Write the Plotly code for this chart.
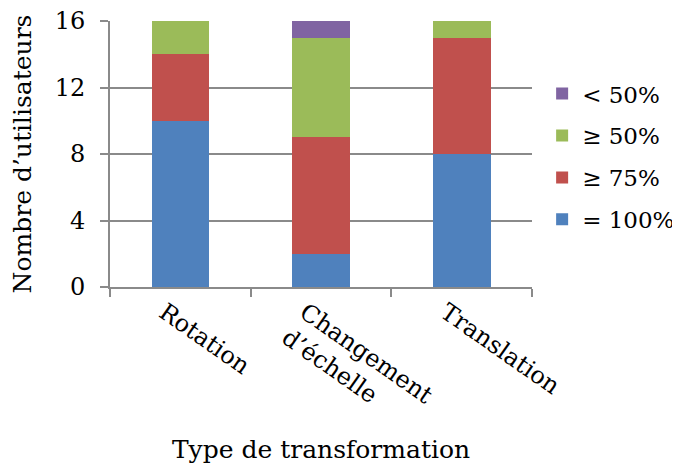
import plotly.graph_objects as go

categories = ["Rotation", "Changement<br>d’échelle", "Translation"]
series_names = ["= 100%", "≥ 75%", "≥ 50%", "< 50%"]
v100 = [10, 2, 8]
v75 = [4, 7, 7]
v50 = [2, 6, 1]
vlt50 = [0, 1, 0]
colors = ["#4F81BD", "#C0504D", "#9BBB59", "#8064A2"]
yticks = [0, 4, 8, 12, 16]

FONT = "DejaVu Serif"
fig = go.Figure()
n = len(series_names)
for i, (name, vals, c) in enumerate(zip(series_names, [v100, v75, v50, vlt50], colors)):
    fig.add_trace(go.Bar(x=categories, y=vals, name=name, legendgroup=f"g{i}", legendrank=n - i,
                         marker=dict(color=c, line=dict(width=0)), width=0.41))

fig.update_layout(
    barmode="stack",
    width=680, height=465,
    margin=dict(l=102, r=156, t=13, b=186, autoexpand=False),
    plot_bgcolor="white", paper_bgcolor="white",
    font=dict(family=FONT, size=22, color="black"),
    showlegend=True,
    legend=dict(traceorder="grouped", x=1.024, y=0.49, xanchor="left", yanchor="middle",
                font=dict(family=FONT, size=23), itemwidth=30, tracegroupgap=9),
)
fig.update_yaxes(range=[0, 16], tickvals=yticks, showgrid=True, gridcolor="#8a8a8a", gridwidth=2,
                 showline=True, linecolor="#8a8a8a", linewidth=2, ticks="outside", ticklen=8,
                 tickcolor="#8a8a8a", tickwidth=2, zeroline=False, automargin=False,
                 tickfont=dict(family=FONT, size=24), ticklabelstandoff=10, ticklabeloverflow="allow",
                 title=dict(text="Nombre d’utilisateurs", standoff=22, font=dict(family=FONT, size=25)))
fig.update_xaxes(showline=True, linecolor="#8a8a8a", linewidth=2, ticks="outside", ticklen=8,
                 tickcolor="#8a8a8a", tickwidth=2, tickson="boundaries", tickangle=35,
                 automargin=False, tickfont=dict(family=FONT, size=24), ticklabelshift=-16,
                 title=dict(text="Type de transformation", standoff=0, font=dict(family=FONT, size=25)))
fig.write_html("out.html")
